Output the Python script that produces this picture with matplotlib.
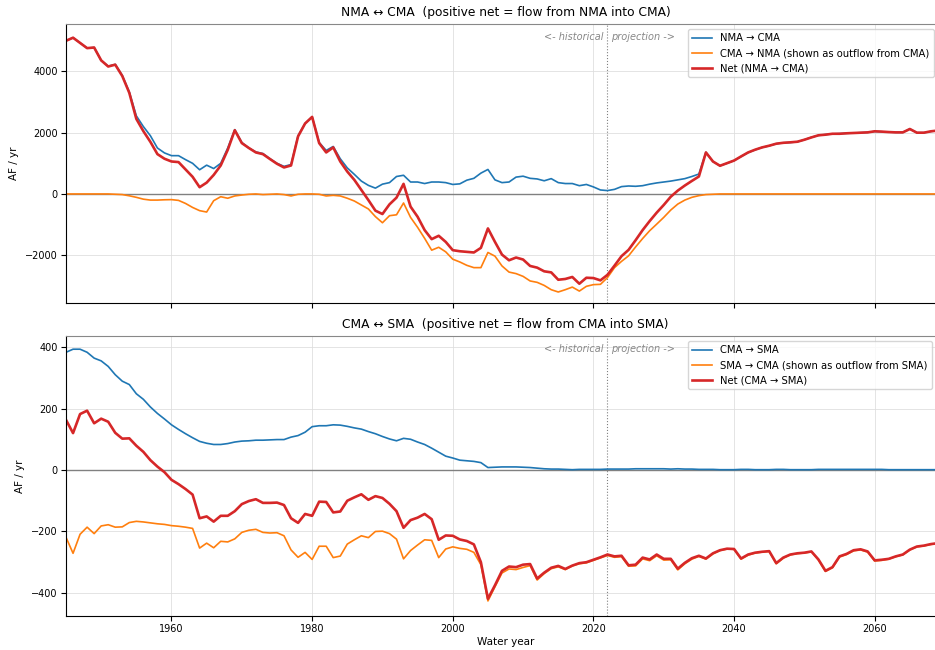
import numpy as np
import matplotlib
matplotlib.use('Agg')
from matplotlib import pyplot as plt
import matplotlib.transforms as mtransforms

years = np.arange(1945, 2070)

# NMA <-> CMA (AF/yr)
nma_to_cma = [5000, 5100, 4930, 4760, 4780, 4360, 4170, 4230, 3870, 3330,
              2550, 2200, 1900, 1500, 1340, 1250, 1250, 1120, 1000, 790,
              940, 830, 1000, 1500, 2100, 1680, 1500, 1370, 1320, 1150,
              1000, 900, 960, 1900, 2300, 2520, 1680, 1420, 1550, 1150,
              850, 640, 420, 280, 190, 320, 370, 570, 610, 390,
              390, 340, 390, 390, 370, 310, 330, 450, 510, 680,
              800, 460, 370, 390, 550, 580, 510, 490, 430, 500,
              370, 340, 340, 270, 310, 230, 130, 110, 150, 240,
              260, 250, 270, 320, 360, 390, 420, 460, 500, 570,
              650, 1360, 1060, 920, 1000, 1090, 1220, 1350, 1440, 1520,
              1570, 1640, 1670, 1680, 1700, 1770, 1850, 1910, 1940, 1960,
              1970, 1980, 1990, 2000, 2010, 2040, 2030, 2020, 2010, 2010,
              2120, 2000, 2000, 2040, 2070]
cma_to_nma = [0, 0, 0, 0, 0, 0, 0, -10, -20, -60,
              -110, -170, -200, -200, -190, -185, -210, -310, -440, -545,
              -590, -220, -90, -140, -65, -35, -10, 0, -20, -10,
              0, -20, -65, -10, 0, 0, -10, -65, -45, -65,
              -140, -230, -360, -490, -740, -940, -710, -680, -295, -765,
              -1090, -1450, -1835, -1740, -1890, -2130, -2220, -2330, -2405, -2405,
              -1910, -2030, -2350, -2550, -2600, -2690, -2840, -2885, -2985, -3125,
              -3200, -3125, -3040, -3170, -3015, -2960, -2950, -2730, -2405, -2200,
              -2020, -1730, -1455, -1200, -985, -765, -525, -330, -200, -110,
              -55, -20, -10, 0, 0, 0, 0, 0, 0, 0,
              0, 0, 0, 0, 0, 0, 0, 0, 0, 0,
              0, 0, 0, 0, 0, 0, 0, 0, 0, 0,
              0, 0, 0, 0, 0]
net_nma_cma = [5000, 5100, 4930, 4760, 4780, 4360, 4160, 4220, 3850, 3300,
               2450, 2050, 1700, 1300, 1150, 1060, 1040, 800, 560, 220,
               370, 620, 930, 1440, 2080, 1660, 1500, 1355, 1300, 1140,
               985, 865, 930, 1880, 2300, 2515, 1660, 1355, 1520, 1060,
               730, 460, 130, -200, -545, -655, -340, -120, 330, -415,
               -745, -1180, -1475, -1365, -1565, -1835, -1870, -1890, -1910, -1760,
               -1125, -1565, -1980, -2165, -2075, -2140, -2350, -2405, -2525, -2560,
               -2800, -2775, -2710, -2930, -2735, -2745, -2820, -2640, -2340, -2030,
               -1825, -1510, -1180, -885, -610, -360, -90, 110, 275, 425,
               570, 1355, 1060, 920, 1005, 1090, 1225, 1355, 1445, 1520,
               1575, 1640, 1670, 1685, 1705, 1770, 1845, 1915, 1935, 1965,
               1965, 1980, 1990, 2000, 2010, 2045, 2035, 2020, 2010, 2010,
               2120, 2000, 2000, 2045, 2070]

# CMA <-> SMA (AF/yr)
cma_to_sma = [383, 393, 393, 383, 364, 355, 337, 310, 289, 278,
              248, 230, 205, 184, 166, 147, 132, 118, 105, 93,
              87, 83, 83, 86, 91, 94, 95, 97, 97, 98,
              99, 99, 107, 112, 123, 141, 144, 144, 147, 146,
              142, 137, 133, 125, 118, 109, 101, 95, 103, 100,
              91, 83, 71, 58, 45, 39, 32, 30, 28, 24,
              8, 9, 10, 10, 10, 9, 8, 6, 4, 3,
              3, 2, 1, 2, 2, 2, 2, 3, 3, 3,
              3, 4, 4, 4, 4, 4, 3, 4, 3, 3,
              2, 2, 2, 1, 1, 1, 2, 2, 1, 1,
              1, 2, 2, 1, 1, 1, 1, 2, 2, 2,
              2, 2, 2, 2, 2, 2, 2, 1, 1, 1,
              1, 1, 1, 1, 1]
sma_to_cma = [-219, -271, -209, -186, -207, -182, -178, -186, -185, -171,
              -167, -169, -172, -175, -177, -181, -183, -186, -190, -254,
              -238, -253, -232, -234, -224, -203, -196, -193, -203, -205,
              -204, -214, -260, -284, -268, -291, -248, -248, -285, -280,
              -241, -227, -214, -220, -200, -199, -207, -225, -289, -262,
              -244, -227, -229, -285, -257, -250, -255, -258, -268, -308,
              -426, -380, -335, -322, -324, -317, -311, -358, -337, -321,
              -315, -324, -312, -305, -302, -294, -286, -278, -284, -282,
              -313, -312, -289, -295, -279, -293, -292, -325, -305, -290,
              -281, -290, -273, -262, -257, -258, -290, -277, -270, -267,
              -265, -305, -287, -276, -272, -270, -266, -293, -330, -318,
              -283, -275, -263, -260, -267, -296, -294, -290, -282, -276,
              -260, -250, -247, -242, -239]
net_cma_sma = [163, 120, 182, 193, 152, 167, 157, 121, 102, 103,
               79, 59, 32, 11, -7, -32, -46, -62, -80, -157,
               -151, -168, -149, -149, -134, -111, -101, -95, -107, -107,
               -106, -114, -157, -172, -143, -149, -103, -104, -138, -135,
               -100, -89, -79, -97, -85, -91, -110, -134, -188, -163,
               -155, -143, -160, -227, -213, -214, -226, -231, -242, -300,
               -419, -375, -328, -314, -316, -308, -306, -353, -334, -318,
               -312, -322, -311, -303, -300, -292, -284, -275, -281, -279,
               -310, -308, -285, -291, -275, -289, -289, -321, -302, -287,
               -279, -288, -271, -261, -256, -257, -288, -275, -269, -266,
               -264, -303, -285, -275, -271, -269, -265, -291, -328, -316,
               -281, -273, -261, -258, -265, -294, -292, -289, -281, -275,
               -259, -249, -246, -241, -238]

split_year = 2022

panels = [
    ('NMA \u2194 CMA  (positive net = flow from NMA into CMA)',
     nma_to_cma, cma_to_nma, net_nma_cma,
     'NMA \u2192 CMA', 'CMA \u2192 NMA (shown as outflow from CMA)', 'Net (NMA \u2192 CMA)',
     (-3556, 5546)),
    ('CMA \u2194 SMA  (positive net = flow from CMA into SMA)',
     cma_to_sma, sma_to_cma, net_cma_sma,
     'CMA \u2192 SMA', 'SMA \u2192 CMA (shown as outflow from SMA)', 'Net (CMA \u2192 SMA)',
     (-475, 436)),
]

fig = plt.figure(figsize=(9.35, 6.5), dpi=100)
ax_top = fig.add_axes([0.0706, 0.534, 0.9401, 0.429])
ax_bot = fig.add_axes([0.0706, 0.0523, 0.9401, 0.4308], sharex=ax_top)

for ax, p in zip([ax_top, ax_bot], panels):
    title, a, b, net, la, lb, ln, ylim = p
    ax.grid(True, color='#dddddd', lw=0.7, alpha=0.8)
    ax.set_axisbelow(True)
    ax.axhline(0, color='gray', lw=1.0)
    ax.axvline(split_year, color='gray', lw=0.8, ls=':')
    ax.plot(years, a, color='#1f77b4', lw=1.2, label=la)
    ax.plot(years, b, color='#ff7f0e', lw=1.2, label=lb)
    ax.plot(years, net, color='#d62728', lw=1.9, label=ln)
    ax.set_ylim(*ylim)
    ax.set_title(title, fontsize=8.8)
    ax.set_ylabel('AF / yr', fontsize=7.5)
    ax.tick_params(labelsize=7, pad=2.5)
    ax.spines['top'].set_color('#888888')
    trans = mtransforms.blended_transform_factory(ax.transData, ax.transAxes)
    ax.text(split_year - 0.5, 0.953, '<- historical', transform=trans, ha='right', va='center',
            fontsize=7, style='italic', color='#888888')
    ax.text(split_year + 0.5, 0.953, 'projection ->', transform=trans, ha='left', va='center',
            fontsize=7, style='italic', color='#888888')
    ax.legend(loc='upper left', bbox_to_anchor=(0.708, 0.982), borderaxespad=0, fontsize=7.2)

ax_top.set_xlim(1945, 2070)
plt.setp(ax_top.get_xticklabels(), visible=False)
ax_bot.set_xlabel('Water year', fontsize=7.5, labelpad=2)

fig.savefig('out.png', dpi=100)
